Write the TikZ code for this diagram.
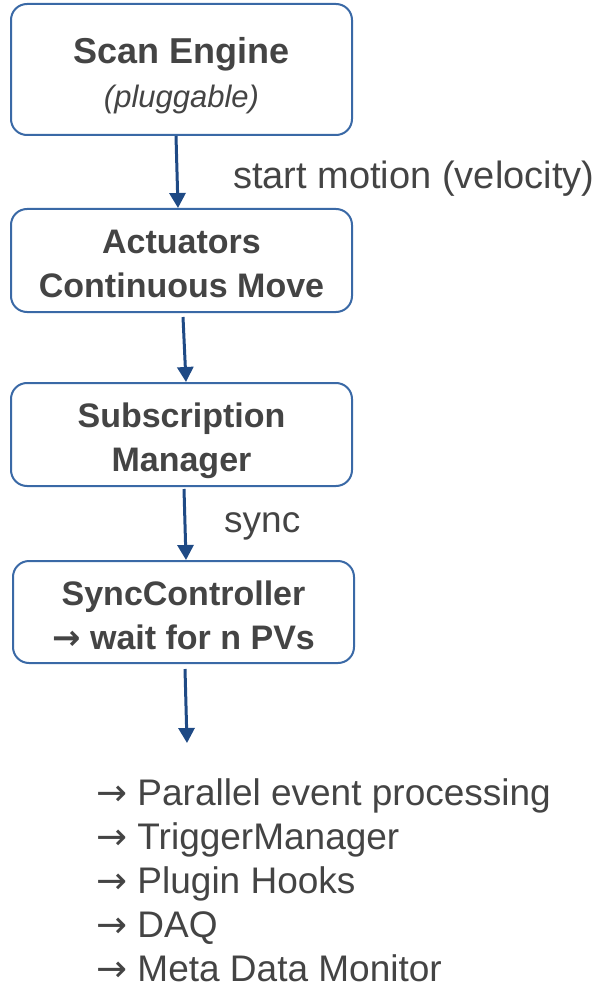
\documentclass[tikz,border=0pt]{standalone}
\usepackage{fontspec}
\setmainfont{Liberation Sans}
\newfontfamily\symfont{DejaVu Sans}
\usetikzlibrary{arrows.meta,calc}
\definecolor{ink}{HTML}{444444}
\definecolor{edge}{HTML}{3A69A6}
\definecolor{flow}{HTML}{1F4A85}
\newcommand\rarr{{\symfont →}}
\newcommand\twolines[2]{\begin{tabular}{@{}c@{}}#1\\#2\end{tabular}}
\begin{document}
\begin{tikzpicture}[x=1pt,y=1pt,
  stage/.style={draw=edge, line width=2pt, rounded corners=16pt, fill=white,
    text=ink, minimum width=341pt, inner sep=0pt,
    font=\bfseries\fontsize{34}{44}\selectfont},
  flowarrow/.style={draw=flow, line width=3pt, -{Triangle[length=15pt,width=16pt]}},
  note/.style={text=ink, font=\fontsize{37}{44}\selectfont, inner sep=0pt, anchor=base west}]
\useasboundingbox (0,0) rectangle (601,-984);

% pipeline stages (text height/depth place the two-line labels within the boxes)
\node[stage, minimum height=131pt, text height=57.5pt, text depth=30.5pt] (engine) at (181.5,-69.5)
  {\twolines{\fontsize{36}{43}\selectfont Scan Engine}{\mdseries\itshape\fontsize{31}{43}\selectfont (pluggable)}};
\node[stage, minimum height=103pt, text height=56.5pt, text depth=31.5pt] (act) at (181.5,-260.5)
  {\twolines{Actuators}{Continuous Move}};
\node[stage, minimum height=103pt, text height=56pt, text depth=32pt] (subs) at (181.5,-434.5)
  {\twolines{Subscription}{Manager}};
\node[stage, minimum height=102pt, text height=56.5pt, text depth=31.5pt] (sync) at (183.5,-612)
  {\twolines{SyncController}{\rarr{} wait for n PVs}};

% connectors
\draw[flowarrow] ($(engine.south)+(-5.5,0)$) -- ($(act.north)+(-3.5,0)$);
\draw[flowarrow] ($(act.south)+(1.5,-4)$) -- ($(subs.north)+(4.5,0)$);
\draw[flowarrow] ($(subs.south)+(2.5,-2)$) -- ($(sync.north)+(2.5,0)$);
\coordinate (out) at (187,-743);
\draw[flowarrow] ($(sync.south)+(1.5,-5)$) -- (out);

% edge labels
\node[note, font=\fontsize{38}{44}\selectfont] (lbl1) at (233,-189) {start motion (velocity)};
\node[note] (lbl2) at (224,-532) {sync};

% downstream consumers
\node[note] (c1) at (96,-805) {\rarr{} Parallel event processing};
\node[note] (c2) at (96,-849) {\rarr{} TriggerManager};
\node[note] (c3) at (96,-893) {\rarr{} Plugin Hooks};
\node[note] (c4) at (96,-937) {\rarr{} DAQ};
\node[note] (c5) at (96,-981) {\rarr{} Meta Data Monitor};
\end{tikzpicture}
\end{document}
